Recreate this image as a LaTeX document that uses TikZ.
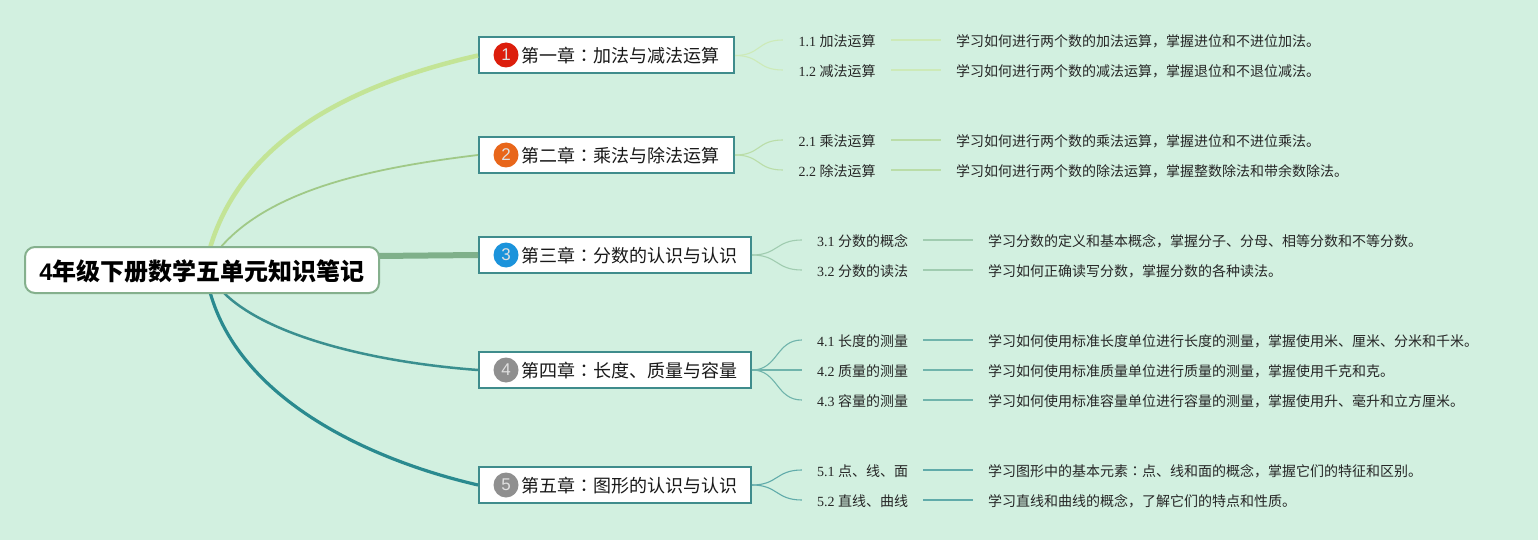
\documentclass[tikz,border=0pt]{standalone}
\usepackage{fontspec}
\setmainfont{Liberation Serif}
\newfontfamily\cjk{Noto Sans CJK SC}
\newfontfamily\cjktc{Noto Sans CJK TC}
\newfontfamily\lat{Liberation Sans}
\newcommand{\cln}{{\cjktc ：}}
\newcommand{\chaptxt}[1]{\hspace*{42.5pt}#1}
\newcommand{\subtxt}[2]{#1 {\cjk #2}}
\definecolor{bgc}{HTML}{D2F0E0}
\definecolor{edge}{HTML}{3F8C8C}
\definecolor{rootedge}{HTML}{85B08D}
\definecolor{bA}{HTML}{C3E496}
\definecolor{bB}{HTML}{A0C987}
\definecolor{bC}{HTML}{7FB08A}
\definecolor{bD}{HTML}{3A8F8F}
\definecolor{bE}{HTML}{2A8A8F}
\definecolor{lA}{HTML}{CDEAB8}
\definecolor{lB}{HTML}{BADDA8}
\definecolor{lC}{HTML}{A0CCB0}
\definecolor{lD}{HTML}{70B4AC}
\definecolor{lE}{HTML}{60ABAA}
\definecolor{icR}{HTML}{DC1E0C}
\definecolor{icO}{HTML}{E8661A}
\definecolor{icB}{HTML}{1B93DB}
\definecolor{icG}{HTML}{8F8F8F}
\tikzset{
  x=1pt,y=-1pt,
  rootbox/.style={draw=rootedge,line width=2pt,fill=white,rounded corners=10pt,minimum width=354pt,minimum height=46pt,inner sep=0pt,text height=22pt,text depth=1.2pt,font=\lat\bfseries\fontsize{24}{24}\selectfont,text=black},
  chapbox/.style={draw=edge,line width=2pt,fill=white,anchor=west,inner xsep=0pt,inner ysep=0pt,minimum height=36pt,text height=16pt,text depth=1.4pt,align=left,font=\cjk\fontsize{18}{18}\selectfont,text=black!90},
  icon/.style={circle,minimum size=25pt,inner sep=0pt,text=white!88!black,font=\lat\fontsize{17}{17}\selectfont},
  sub/.style={inner sep=0pt,minimum height=20pt,text height=14pt,text depth=1.4pt,font=\fontsize{14}{14}\selectfont,text=black!85,anchor=center},
  subA/.style={sub,minimum width=108pt},
  subB/.style={sub,minimum width=121pt},
  descn/.style={inner xsep=15pt,inner ysep=0pt,minimum height=20pt,text height=14pt,text depth=1.4pt,anchor=west,font=\cjk\fontsize{14}{14}\selectfont,text=black!85},
}
\begin{document}
\begin{tikzpicture}
\useasboundingbox (0,0) rectangle (1538,540);
\fill[bgc] (0,0) rectangle (1538,540);
% root anchor points
\coordinate (r1) at (210,248);
\coordinate (r2) at (220,248);
\coordinate (r3) at (378,256);
\coordinate (r4) at (223,292);
\coordinate (r5) at (210,292);
% chapter boxes
\node[chapbox,text width=255pt] (c1) at (478,55.5) {\chaptxt{第一章\cln 加法与减法运算}};
\node[chapbox,text width=255pt] (c2) at (478,155) {\chaptxt{第二章\cln 乘法与除法运算}};
\node[chapbox,text width=272pt] (c3) at (478,255) {\chaptxt{第三章\cln 分数的认识与认识}};
\node[chapbox,text width=272pt] (c4) at (478,370) {\chaptxt{第四章\cln 长度、质量与容量}};
\node[chapbox,text width=272pt] (c5) at (478,485) {\chaptxt{第五章\cln 图形的认识与认识}};
\node[icon,fill=icR] (i1) at (506,55) {1};
\node[icon,fill=icO] (i2) at (506,155) {2};
\node[icon,fill=icB] (i3) at (506,255) {3};
\node[icon,fill=icG] (i4) at (506,370) {4};
\node[icon,fill=icG] (i5) at (506,485) {5};
% main branches
\draw[bA,line width=4.5pt] (r1) .. controls (245,130) and (370,80) .. (c1.west);
\draw[bB,line width=1.8pt] (r2) .. controls (270,190) and (370,168) .. (c2.west);
\draw[bC,line width=6pt] (r3) -- (c3.west);
\draw[bD,line width=2.5pt] (r4) .. controls (265,335) and (370,362) .. (c4.west);
\draw[bE,line width=3.2pt] (r5) .. controls (240,400) and (370,460) .. (c5.west);
\node[rootbox] (root) at (202,270) {4{\cjk 年级下册数学五单元知识笔记}};
% sub topics
\node[subA] (s11) at (837,40) {\subtxt{1.1}{加法运算}};
\node[subA] (s12) at (837,70) {\subtxt{1.2}{减法运算}};
\node[subA] (s21) at (837,140) {\subtxt{2.1}{乘法运算}};
\node[subA] (s22) at (837,170) {\subtxt{2.2}{除法运算}};
\node[subB] (s31) at (862.5,240) {\subtxt{3.1}{分数的概念}};
\node[subB] (s32) at (862.5,270) {\subtxt{3.2}{分数的读法}};
\node[subB] (s41) at (862.5,340) {\subtxt{4.1}{长度的测量}};
\node[subB] (s42) at (862.5,370) {\subtxt{4.2}{质量的测量}};
\node[subB] (s43) at (862.5,400) {\subtxt{4.3}{容量的测量}};
\node[subB] (s51) at (862.5,470) {\subtxt{5.1}{点、线、面}};
\node[subB] (s52) at (862.5,500) {\subtxt{5.2}{直线、曲线}};
% descriptions
\node[descn] (d11) at (941,40) {学习如何进行两个数的加法运算，掌握进位和不进位加法。};
\node[descn] (d12) at (941,70) {学习如何进行两个数的减法运算，掌握退位和不退位减法。};
\node[descn] (d21) at (941,140) {学习如何进行两个数的乘法运算，掌握进位和不进位乘法。};
\node[descn] (d22) at (941,170) {学习如何进行两个数的除法运算，掌握整数除法和带余数除法。};
\node[descn] (d31) at (973,240) {学习分数的定义和基本概念，掌握分子、分母、相等分数和不等分数。};
\node[descn] (d32) at (973,270) {学习如何正确读写分数，掌握分数的各种读法。};
\node[descn] (d41) at (973,340) {学习如何使用标准长度单位进行长度的测量，掌握使用米、厘米、分米和千米。};
\node[descn] (d42) at (973,370) {学习如何使用标准质量单位进行质量的测量，掌握使用千克和克。};
\node[descn] (d43) at (973,400) {学习如何使用标准容量单位进行容量的测量，掌握使用升、毫升和立方厘米。};
\node[descn] (d51) at (973,470) {学习图形中的基本元素\cln 点、线和面的概念，掌握它们的特征和区别。};
\node[descn] (d52) at (973,500) {学习直线和曲线的概念，了解它们的特点和性质。};
% sub branches
\foreach \c/\s/\d/\k in {c1/s11/d11/lA,c1/s12/d12/lA,c2/s21/d21/lB,c2/s22/d22/lB,c3/s31/d31/lC,c3/s32/d32/lC,c4/s41/d41/lD,c4/s42/d42/lD,c4/s43/d43/lD,c5/s51/d51/lE,c5/s52/d52/lE}{
  \draw[\k,line width=1.1pt] (\c.east) .. controls ([xshift=26pt]\c.east) and ([xshift=-26pt]\s.west) .. (\s.west);
  \draw[\k,line width=1.6pt] (\s.east) -- (\d.west);
}
\end{tikzpicture}
\end{document}
